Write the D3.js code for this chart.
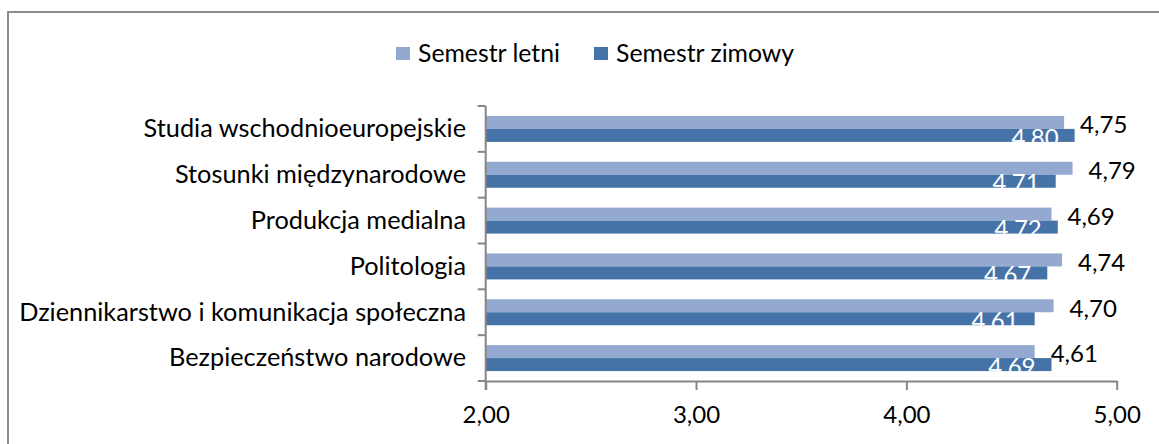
<!DOCTYPE html>
<html>
<head>
<meta charset="utf-8">
<script src="https://cdn.jsdelivr.net/npm/d3@7/dist/d3.min.js"></script>
<style>
  html, body { margin: 0; padding: 0; background: #fff; }
  svg { display: block; font-family: Lato, "Open Sans", sans-serif; }
</style>
</head>
<body>
<svg id="chart" width="1159" height="444"></svg>
<script>
// Study programmes, listed top to bottom
const categories = [
  "Studia wschodnioeuropejskie",
  "Stosunki międzynarodowe",
  "Produkcja medialna",
  "Politologia",
  "Dziennikarstwo i komunikacja społeczna",
  "Bezpieczeństwo narodowe"
];
const seriesNames = ["Semestr letni", "Semestr zimowy"];
const letni  = [4.75, 4.79, 4.69, 4.74, 4.70, 4.61];
const zimowy = [4.80, 4.71, 4.72, 4.67, 4.61, 4.69];
const xTicks = [2, 3, 4, 5];

const colors = { light: "#94a9d0", dark: "#4573a8", axis: "#868686", frame: "#8c8c8c" };
const labelSize = 25.3;
const legendSize = 24.8;
const numberSize = 24;

const svg = d3.select("#chart");
const plFormat = d3.formatLocale({ decimal: ",", thousands: " ", grouping: [3], currency: ["", " zł"] }).format(".2f");

// outer chart frame (right and bottom edges run past the page)
svg.append("rect")
  .attr("x", 8).attr("y", 12).attr("width", 1170).attr("height", 460)
  .attr("fill", "none").attr("stroke", colors.frame).attr("stroke-width", 2);

const x = d3.scaleLinear().domain([2, 5]).range([485.7, 1116.7]);
const y = d3.scaleBand().domain(categories).range([106, 381]).padding(0);
const barH = 13;

// bars
const rows = categories.map((c, i) => ({ c, letni: letni[i], zimowy: zimowy[i] }));
const g = svg.append("g");

rows.forEach(r => {
  const mid = y(r.c) + y.bandwidth() / 2;
  g.append("rect")
    .attr("x", x(2)).attr("y", mid - barH)
    .attr("width", x(r.letni) - x(2)).attr("height", barH)
    .attr("fill", colors.light);
  g.append("rect")
    .attr("x", x(2)).attr("y", mid)
    .attr("width", x(r.zimowy) - x(2)).attr("height", barH)
    .attr("fill", colors.dark);
  // value labels
  g.append("text")
    .attr("x", x(r.letni) + 16).attr("y", mid - barH / 2 + 2.5)
    .attr("dy", "0.35em")
    .attr("font-size", numberSize).attr("fill", "#000")
    .text(plFormat(r.letni));
  g.append("text")
    .attr("x", x(r.zimowy) - 16).attr("y", mid + barH / 2 + 1.8)
    .attr("dy", "0.35em").attr("text-anchor", "end")
    .attr("font-size", numberSize).attr("fill", "#fff")
    .text(plFormat(r.zimowy));
});

// category axis: line, ticks between categories, labels
const ax = svg.append("g");
ax.append("line")
  .attr("x1", x(2)).attr("x2", x(2)).attr("y1", y.range()[0]).attr("y2", y.range()[1] + 9)
  .attr("stroke", colors.axis).attr("stroke-width", 2);
const bounds = categories.map(c => y(c)).concat([y.range()[1]]);
ax.selectAll("line.tk").data(bounds).join("line")
  .attr("class", "tk")
  .attr("x1", x(2) - 8).attr("x2", x(2)).attr("y1", d => d).attr("y2", d => d)
  .attr("stroke", colors.axis).attr("stroke-width", 2);
ax.selectAll("text").data(categories).join("text")
  .attr("x", 466).attr("y", d => y(d) + y.bandwidth() / 2)
  .attr("dy", "0.33em").attr("text-anchor", "end")
  .attr("font-size", labelSize).attr("fill", "#000")
  .text(d => d);

// value axis
const xAxis = d3.axisBottom(x).tickValues(xTicks).tickFormat(plFormat).tickSize(9).tickSizeOuter(0).tickPadding(16);
const xg = svg.append("g").attr("transform", `translate(0,${y.range()[1]})`).call(xAxis);
xg.select(".domain").attr("stroke", colors.axis).attr("stroke-width", 2);
xg.selectAll(".tick line").attr("stroke", colors.axis).attr("stroke-width", 2);
xg.selectAll(".tick text").attr("font-size", numberSize).attr("fill", "#000").attr("font-family", "Lato, sans-serif");

// legend
const legend = svg.append("g");
const legendItems = [
  { name: seriesNames[0], color: colors.light, sx: 396, tx: 418 },
  { name: seriesNames[1], color: colors.dark, sx: 594, tx: 616 }
];
legendItems.forEach(it => {
  legend.append("rect").attr("x", it.sx).attr("y", 47).attr("width", 14).attr("height", 13).attr("fill", it.color);
  legend.append("text").attr("x", it.tx).attr("y", 53).attr("dy", "0.35em")
    .attr("font-size", legendSize).attr("fill", "#000").text(it.name);
});
</script>
</body>
</html>
